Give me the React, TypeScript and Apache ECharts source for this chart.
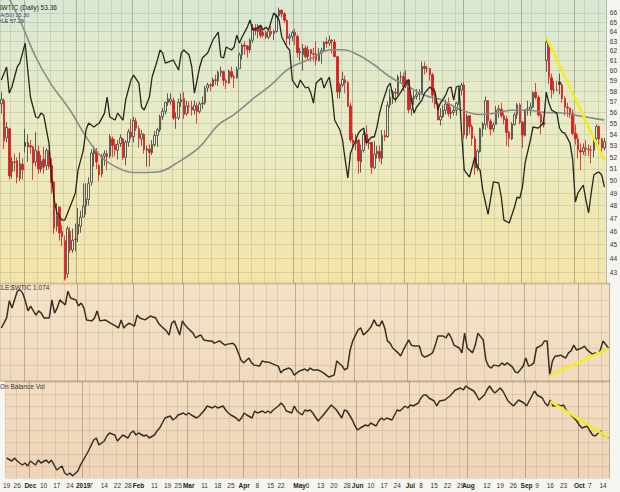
import { useEffect, useRef } from "react";
import * as echarts from "echarts";

// Trading sessions shown on the chart (month + trading days)
const sessionMonths = ["2018-11", "2018-12", "2019-01", "2019-02", "2019-03", "2019-04", "2019-05", "2019-06", "2019-07", "2019-08", "2019-09", "2019-10"];
const sessionDays: number[][] = [
  [19, 20, 21, 23, 26, 27, 28, 29, 30],
  [3, 4, 5, 6, 7, 10, 11, 12, 13, 14, 17, 18, 19, 20, 21, 24, 26, 27, 28, 31],
  [2, 3, 4, 7, 8, 9, 10, 11, 14, 15, 16, 17, 18, 22, 23, 24, 25, 28, 29, 30, 31],
  [1, 4, 5, 6, 7, 8, 11, 12, 13, 14, 15, 19, 20, 21, 22, 25, 26, 27, 28],
  [1, 4, 5, 6, 7, 8, 11, 12, 13, 14, 15, 18, 19, 20, 21, 22, 25, 26, 27, 28, 29],
  [1, 2, 3, 4, 5, 8, 9, 10, 11, 12, 15, 16, 17, 18, 22, 23, 24, 25, 26, 29, 30],
  [1, 2, 3, 6, 7, 8, 9, 10, 13, 14, 15, 16, 17, 20, 21, 22, 23, 24, 28, 29, 30, 31],
  [3, 4, 5, 6, 7, 10, 11, 12, 13, 14, 17, 18, 19, 20, 21, 24, 25, 26, 27, 28],
  [1, 2, 3, 5, 8, 9, 10, 11, 12, 15, 16, 17, 18, 19, 22, 23, 24, 25, 26, 29, 30, 31],
  [1, 2, 5, 6, 7, 8, 9, 12, 13, 14, 15, 16, 19, 20, 21, 22, 23, 26, 27, 28, 29, 30],
  [3, 4, 5, 6, 9, 10, 11, 12, 13, 16, 17, 18, 19, 20, 23, 24, 25, 26, 27, 30],
  [1, 2, 3, 4, 7, 8, 9, 10, 11, 14, 15, 16],
];

// $WTIC daily OHLC
const opens = [
  56.8, 57.1, 53.7, 54.5, 50.8, 51.6, 51.7, 50.2, 51.4,
  53.3, 52.9, 53.0, 52.9, 51.6, 52.5, 51.0, 51.8, 51.3, 52.4, 51.3, 49.9, 46.4, 47.9, 46.0, 45.3, 42.9, 46.0, 44.6, 45.4,
  45.8, 46.4, 47.1, 48.0, 48.5, 49.9, 52.3, 52.5, 51.3, 50.6, 52.1, 52.3, 52.1, 53.6, 53.1, 52.6, 53.2, 53.6, 52.0, 53.3, 54.2,
  53.8, 55.2, 54.5, 53.6, 54.0, 52.6, 52.7, 52.4, 53.1, 53.9, 54.4, 55.6, 56.1, 56.9, 57.0, 57.1, 55.5, 55.5, 57.0,
  57.3, 55.9, 56.6, 56.5, 56.2, 56.6, 56.1, 56.8, 56.9, 58.3, 58.6, 58.5, 59.1, 59.0, 59.8, 59.9, 59.0, 58.8, 59.9, 59.4, 59.3,
  60.2, 61.6, 62.6, 62.5, 62.1, 63.1, 64.4, 64.0, 64.6, 63.6, 63.9, 63.4, 64.0, 63.8, 64.0, 65.7, 66.3, 65.9, 65.2, 63.3, 63.5,
  63.9, 63.5, 61.8, 61.6, 62.3, 61.4, 62.1, 61.7, 61.7, 61.0, 61.8, 62.0, 62.9, 62.8, 63.1, 62.9, 61.4, 57.9, 58.6, 59.1, 58.8, 56.6,
  53.5, 53.2, 53.5, 51.6, 52.6, 54.0, 53.2, 53.3, 51.1, 52.3, 52.5, 51.9, 53.9, 53.8, 56.7, 57.4, 57.9, 57.8, 59.4, 59.4,
  58.5, 59.1, 56.3, 57.3, 57.5, 57.7, 57.8, 60.4, 60.2, 60.2, 59.6, 57.6, 56.8, 55.3, 55.6, 56.2, 56.8, 55.9, 56.0, 56.2, 56.9, 58.1,
  58.6, 53.9, 55.7, 54.7, 53.6, 51.1, 52.5, 54.5, 54.9, 57.1, 55.2, 54.5, 54.9, 56.2, 56.3, 55.7, 55.4, 54.2, 53.6, 54.9, 55.8, 56.7,
  55.1, 53.9, 56.3, 56.3, 56.5, 57.9, 57.4, 55.8, 55.1, 61.0, 62.6, 59.3, 58.1, 58.1, 58.9, 58.6, 57.3, 56.5, 56.4, 55.9,
  54.1, 53.6, 52.6, 52.5, 52.8, 52.7, 52.6, 52.6, 53.6, 54.7, 53.6, 52.8,
];
const highs = [
  57.9, 57.3, 55.1, 54.6, 52.0, 52.3, 52.0, 52.4, 51.9,
  54.5, 54.0, 53.5, 53.0, 54.2, 53.0, 52.2, 52.9, 52.8, 52.6, 51.9, 50.0, 48.2, 47.9, 46.5, 45.7, 46.4, 46.3, 46.2, 46.6,
  47.8, 47.6, 49.8, 49.8, 50.3, 52.7, 53.0, 52.8, 51.4, 52.3, 52.6, 52.6, 54.0, 53.8, 53.6, 53.5, 54.0, 53.7, 53.5, 54.5, 55.4,
  55.6, 55.5, 54.8, 54.4, 54.1, 53.0, 53.1, 53.5, 54.3, 54.6, 55.8, 56.4, 57.0, 57.8, 57.8, 57.4, 56.0, 57.3, 57.8,
  57.9, 57.1, 57.0, 57.1, 57.1, 56.9, 57.0, 57.5, 58.5, 58.8, 58.8, 59.3, 59.6, 60.0, 60.4, 60.0, 59.2, 60.1, 60.4, 59.6, 60.4,
  61.8, 62.8, 63.0, 62.6, 63.3, 64.8, 64.8, 64.8, 64.7, 64.1, 64.1, 64.3, 64.6, 64.2, 65.9, 66.6, 66.4, 66.1, 65.3, 63.8, 64.1,
  64.3, 63.7, 62.3, 62.7, 62.6, 62.5, 62.2, 62.3, 63.0, 62.3, 62.3, 63.0, 63.4, 63.6, 63.2, 63.2, 61.5, 58.8, 59.9, 59.5, 59.0, 56.9,
  54.1, 54.0, 53.6, 53.1, 54.3, 54.8, 53.6, 53.3, 53.4, 53.0, 53.0, 54.4, 54.4, 57.0, 58.2, 58.1, 58.3, 59.6, 59.9, 59.8,
  60.0, 59.2, 57.6, 58.0, 58.2, 58.2, 60.9, 60.9, 60.5, 60.3, 59.8, 58.3, 57.0, 56.4, 56.7, 57.2, 57.4, 56.5, 56.5, 57.0, 58.3, 58.8,
  58.8, 55.9, 55.7, 54.9, 53.9, 52.7, 54.6, 55.1, 57.5, 57.1, 55.4, 55.1, 56.6, 56.7, 56.9, 56.0, 55.7, 54.3, 55.1, 56.0, 56.9, 56.9,
  55.2, 56.3, 57.1, 56.9, 58.0, 58.8, 57.6, 56.0, 55.6, 63.4, 62.9, 59.7, 59.0, 59.0, 59.7, 58.8, 57.5, 56.9, 56.4, 56.3,
  54.9, 54.0, 53.2, 53.2, 53.5, 53.1, 53.0, 53.8, 54.9, 54.8, 53.7, 53.7,
];
const lows = [
  55.9, 52.7, 53.3, 50.1, 50.2, 50.8, 49.8, 50.0, 50.1,
  52.4, 51.6, 52.3, 50.1, 51.2, 50.6, 50.7, 50.6, 50.9, 51.0, 49.0, 45.8, 46.0, 45.3, 44.9, 42.4, 42.6, 44.4, 44.4, 44.5,
  45.2, 45.9, 47.1, 47.3, 48.0, 49.6, 51.2, 51.0, 50.0, 50.3, 51.3, 50.9, 51.9, 52.0, 52.1, 51.8, 52.9, 51.8, 51.3, 52.9, 53.6,
  53.3, 54.3, 52.8, 53.0, 52.3, 51.2, 51.2, 52.2, 52.9, 52.9, 54.2, 55.3, 55.8, 56.6, 56.7, 55.3, 54.5, 55.3, 56.5,
  55.4, 55.7, 55.9, 55.7, 55.8, 55.0, 55.9, 56.3, 56.7, 57.9, 58.0, 58.4, 58.6, 58.5, 59.4, 58.5, 58.2, 58.7, 59.2, 58.3, 59.2,
  60.2, 61.1, 61.6, 61.3, 61.8, 62.8, 63.6, 63.3, 63.3, 63.4, 63.2, 63.2, 63.5, 63.1, 63.9, 65.4, 65.5, 64.9, 62.6, 62.6, 63.0,
  62.6, 61.3, 61.0, 60.0, 61.2, 61.1, 60.9, 60.9, 60.5, 60.9, 60.7, 61.9, 62.3, 62.5, 61.7, 61.3, 57.3, 57.3, 58.4, 57.8, 56.5, 53.3,
  52.7, 52.6, 50.6, 50.7, 52.4, 53.0, 52.7, 50.6, 51.0, 51.9, 51.6, 51.4, 53.4, 53.7, 56.4, 56.8, 56.9, 57.6, 58.9, 58.0,
  58.3, 55.9, 55.7, 56.7, 57.2, 57.1, 57.8, 59.6, 59.8, 59.0, 56.9, 56.4, 55.3, 54.8, 55.5, 55.8, 55.6, 55.4, 55.7, 55.7, 56.7, 57.6,
  53.6, 53.6, 54.0, 53.0, 50.5, 50.8, 52.4, 53.8, 54.4, 54.6, 53.9, 54.2, 54.9, 55.5, 55.5, 54.9, 53.0, 52.9, 53.5, 54.8, 55.4, 54.9,
  52.8, 53.8, 55.7, 55.7, 56.4, 57.2, 55.6, 54.0, 54.6, 59.9, 58.7, 57.3, 57.7, 58.0, 57.7, 56.9, 55.7, 55.6, 55.5, 53.9,
  53.1, 51.9, 50.9, 52.2, 52.1, 52.1, 51.5, 52.0, 53.5, 53.1, 52.5, 52.6,
];
const closes = [
  57.20, 53.43, 54.63, 50.42, 51.63, 51.56, 50.29, 51.45, 50.93,
  52.95, 53.25, 52.89, 51.49, 52.61, 51.00, 51.65, 51.15, 52.58, 51.20, 49.88, 46.24, 47.20, 45.88, 45.59, 42.53, 46.22, 44.61, 45.33, 45.41,
  46.54, 47.09, 47.96, 48.52, 49.78, 52.36, 52.59, 51.59, 50.51, 52.11, 52.31, 52.07, 53.80, 53.01, 52.62, 53.13, 53.69, 51.99, 53.31, 54.23, 53.79,
  55.26, 54.56, 53.66, 54.01, 52.64, 52.72, 52.41, 53.10, 53.90, 54.41, 55.59, 56.09, 56.92, 57.26, 57.26, 55.48, 55.50, 56.94, 57.22,
  55.80, 56.59, 56.56, 56.22, 56.66, 56.07, 56.79, 56.87, 58.26, 58.61, 58.52, 59.09, 59.03, 59.83, 59.98, 59.04, 58.82, 59.94, 59.41, 59.30, 60.14,
  61.59, 62.58, 62.46, 62.10, 63.08, 64.40, 64.05, 64.61, 63.58, 63.89, 63.40, 64.05, 63.76, 64.00, 65.70, 66.30, 65.89, 65.21, 63.30, 63.50, 63.91,
  63.60, 61.81, 61.94, 62.25, 61.40, 62.12, 61.70, 61.66, 61.04, 61.78, 62.02, 62.87, 62.76, 63.10, 62.99, 61.42, 57.91, 58.63, 59.14, 58.81, 56.59, 53.50,
  53.25, 53.48, 51.68, 52.59, 53.99, 53.26, 53.27, 51.14, 52.28, 52.51, 51.93, 53.90, 53.76, 56.65, 57.43, 57.90, 57.83, 59.38, 59.43, 58.47,
  59.09, 56.25, 57.34, 57.51, 57.66, 57.83, 60.43, 60.20, 60.21, 59.58, 57.62, 56.78, 55.30, 55.63, 56.22, 56.77, 55.88, 56.02, 56.20, 56.87, 58.05, 58.58,
  53.95, 55.66, 54.69, 53.63, 51.09, 52.54, 54.50, 54.93, 57.10, 55.23, 54.47, 54.87, 56.21, 56.34, 55.68, 55.35, 54.17, 53.64, 54.93, 55.78, 56.71, 55.10,
  53.94, 56.26, 56.30, 56.52, 57.85, 57.40, 55.75, 55.09, 54.85, 62.90, 59.34, 58.11, 58.13, 58.09, 58.64, 57.29, 56.49, 56.41, 55.91, 54.07,
  53.62, 52.64, 52.45, 52.81, 52.75, 52.63, 52.59, 53.55, 54.70, 53.59, 52.81, 53.36,
];

// [session index, value] readings
const ma50Points: [number, number][] = [
  [0, 69.6], [3, 67.6], [7, 65.24], [13, 61.37], [19, 58.6], [26, 56.2], [32, 53.8], [38, 52.0], [44, 51.1], [50, 50.7],
  [59, 50.75], [67, 51.6], [75, 52.9], [82, 54.85], [88, 55.8], [96, 57.45], [102, 58.6], [108, 60.07], [113, 60.77], [116, 61.07],
  [125, 62.1], [129, 62.1], [135, 61.57], [141, 60.56], [147, 59.37], [154, 58.4], [160, 57.6], [166, 57.2], [174, 56.2], [181, 55.8],
  [187, 55.95], [193, 56.2], [199, 56.2], [205, 56.0], [212, 55.95], [218, 55.7], [224, 55.45], [228, 55.3],
];
const xlePoints: [number, number][] = [
  [0, 64.67], [2, 65.57], [3, 63.77], [4, 64.19], [6, 65.57], [7, 65.84], [9, 67.22], [10, 65.36], [11, 63.5], [13, 62.12],
  [14, 62.05], [15, 62.39], [16, 62.26], [18, 60.32], [19, 57.98], [20, 56.39], [21, 55.5], [23, 55.01], [24, 55.01], [27, 56.39],
  [28, 56.88], [29, 58.46], [31, 59.84], [32, 61.22], [33, 61.7], [35, 61.43], [37, 61.7], [39, 62.39], [40, 63.5], [41, 62.12],
  [43, 61.91], [44, 62.39], [46, 61.91], [47, 63.29], [49, 64.67], [50, 65.01], [52, 64.46], [53, 62.81], [54, 62.6], [56, 63.5],
  [57, 64.88], [59, 66.05], [60, 66.74], [61, 66.53], [62, 65.84], [63, 65.91], [65, 66.05], [67, 65.36], [68, 66.53], [69, 66.74],
  [71, 66.39], [72, 65.57], [73, 63.77], [74, 64.67], [75, 65.57], [76, 66.19], [78, 66.53], [80, 67.43], [82, 67.98], [83, 66.26],
  [84, 66.19], [85, 66.95], [87, 66.74], [88, 66.95], [89, 67.77], [90, 67.22], [91, 67.64], [93, 68.32], [94, 68.81], [95, 68.12],
  [97, 68.26], [98, 68.46], [99, 68.12], [100, 68.32], [101, 68.12], [103, 69.3], [105, 68.81], [106, 67.64], [108, 66.95], [109, 66.74],
  [110, 64.67], [112, 64.12], [113, 64.67], [115, 64.12], [116, 64.19], [117, 63.77], [118, 63.08], [119, 64.46], [121, 64.81], [122, 64.12],
  [123, 64.53], [124, 64.88], [125, 63.77], [126, 61.91], [128, 61.22], [129, 60.53], [130, 59.15], [131, 57.91], [132, 59.63], [134, 60.53],
  [135, 61.01], [136, 61.22], [137, 61.36], [138, 60.32], [140, 60.74], [141, 60.74], [142, 61.43], [143, 62.39], [144, 63.08], [146, 64.19],
  [147, 64.46], [148, 63.5], [149, 63.29], [151, 63.84], [153, 64.46], [154, 64.67], [155, 63.29], [156, 62.39], [157, 62.81], [159, 63.29],
  [160, 63.77], [162, 64.19], [164, 63.84], [165, 62.6], [166, 63.08], [168, 63.63], [169, 64.12], [170, 64.19], [171, 63.29], [172, 64.19],
  [173, 64.26], [174, 61.01], [175, 58.46], [177, 57.98], [179, 59.36], [180, 58.67], [181, 58.46], [182, 57.08], [184, 55.4], [186, 57.64],
  [188, 57.57], [189, 56.6], [190, 55.01], [192, 54.81], [194, 55.91], [195, 56.6], [196, 56.53], [197, 57.29], [198, 58.95], [200, 60.53],
  [201, 61.43], [203, 61.36], [205, 61.7], [206, 63.84], [207, 63.08], [208, 62.6], [210, 62.39], [211, 61.36], [212, 61.08], [213, 61.01],
  [215, 60.32], [216, 59.15], [217, 56.26], [218, 56.88], [220, 57.43], [221, 56.39], [222, 55.5], [223, 56.88], [224, 58.12], [225, 58.26],
  [226, 58.32], [227, 58.1], [228, 57.29],
];
const ratioPoints: [number, number][] = [
  [0, 1.136], [2, 1.167], [3, 1.22], [4, 1.198], [6, 1.25], [7, 1.254], [8, 1.244], [9, 1.22], [10, 1.189], [11, 1.204],
  [13, 1.176], [14, 1.189], [15, 1.182], [16, 1.167], [18, 1.167], [19, 1.223], [20, 1.182], [21, 1.198], [22, 1.223], [24, 1.207],
  [25, 1.25], [26, 1.229], [28, 1.223], [29, 1.204], [30, 1.213], [31, 1.198], [32, 1.161], [34, 1.158], [35, 1.167], [36, 1.189],
  [37, 1.158], [39, 1.161], [41, 1.151], [43, 1.142], [44, 1.136], [45, 1.161], [46, 1.136], [47, 1.145], [48, 1.151], [50, 1.142],
  [51, 1.176], [52, 1.167], [54, 1.161], [55, 1.167], [56, 1.173], [58, 1.167], [59, 1.151], [60, 1.142], [62, 1.127], [63, 1.114],
  [64, 1.151], [65, 1.158], [67, 1.114], [68, 1.158], [69, 1.145], [70, 1.136], [72, 1.12], [73, 1.105], [74, 1.111], [75, 1.114],
  [76, 1.099], [78, 1.096], [79, 1.096], [80, 1.089], [82, 1.096], [83, 1.089], [84, 1.083], [85, 1.086], [87, 1.089], [88, 1.08],
  [89, 1.059], [90, 1.037], [91, 1.028], [93, 1.043], [94, 1.028], [95, 1.021], [97, 1.018], [98, 1.034], [99, 1.031], [100, 1.031],
  [101, 1.028], [103, 1.021], [104, 1.018], [105, 0.997], [106, 1.006], [108, 1.012], [109, 1.006], [110, 0.99], [112, 1.003], [113, 1.006],
  [114, 1.009], [115, 1.003], [116, 1.012], [117, 1.006], [119, 1.006], [121, 0.997], [123, 0.984], [125, 0.99], [126, 1.034], [128, 1.018],
  [129, 1.006], [130, 1.012], [131, 1.068], [132, 1.096], [134, 1.13], [135, 1.136], [136, 1.114], [138, 1.13], [139, 1.142], [140, 1.161],
  [141, 1.145], [142, 1.142], [143, 1.158], [144, 1.136], [145, 1.096], [146, 1.089], [147, 1.074], [149, 1.059], [150, 1.049], [151, 1.068],
  [153, 1.099], [154, 1.083], [155, 1.08], [157, 1.08], [158, 1.052], [159, 1.046], [160, 1.049], [162, 1.059], [163, 1.083], [164, 1.111],
  [166, 1.111], [167, 1.105], [168, 1.12], [169, 1.105], [170, 1.083], [172, 1.074], [173, 1.059], [174, 1.12], [175, 1.074], [177, 1.059],
  [178, 1.083], [179, 1.12], [181, 1.099], [182, 1.037], [183, 1.018], [184, 1.012], [185, 1.021], [187, 1.018], [188, 1.028], [189, 1.021],
  [190, 1.028], [192, 1.015], [193, 1.0], [194, 0.997], [196, 1.018], [197, 1.043], [198, 1.018], [199, 1.021], [200, 1.028], [201, 1.074],
  [203, 1.083], [204, 1.096], [205, 1.096], [206, 0.99], [207, 1.034], [208, 1.049], [209, 1.049], [210, 1.052], [212, 1.043], [213, 1.059],
  [214, 1.065], [215, 1.083], [216, 1.068], [218, 1.074], [219, 1.08], [220, 1.068], [222, 1.055], [223, 1.059], [224, 1.055], [225, 1.068],
  [226, 1.096], [228, 1.074],
];
const obvPoints: [number, number][] = [
  [0, 20], [2, 17], [3, 20], [4, 17], [6, 13], [7, 15], [8, 12], [9, 17], [11, 13], [12, 18], [13, 15], [15, 18], [16, 15], [17, 18],
  [18, 13], [19, 8], [21, 12], [22, 5], [23, 3], [24, 5], [25, 2], [27, 7], [28, 13], [31, 27], [33, 38], [34, 40], [35, 33], [37, 37],
  [38, 42], [39, 45], [41, 43], [42, 37], [43, 40], [44, 43], [46, 40], [47, 45], [48, 47], [49, 43], [50, 45], [52, 42], [53, 43], [54, 40],
  [56, 43], [57, 47], [58, 50], [59, 55], [60, 60], [62, 62], [63, 58], [64, 60], [65, 63], [67, 65], [68, 63], [69, 65], [70, 63], [72, 60],
  [73, 62], [74, 65], [75, 68], [76, 72], [78, 70], [79, 72], [80, 70], [82, 72], [83, 68], [84, 65], [85, 63], [87, 60], [88, 57], [89, 60],
  [90, 65], [91, 63], [93, 60], [94, 67], [95, 65], [97, 67], [98, 65], [99, 67], [100, 65], [101, 68], [103, 72], [104, 75], [105, 72], [106, 67],
  [108, 65], [109, 72], [110, 67], [112, 63], [113, 68], [114, 67], [115, 68], [116, 65], [118, 57], [120, 63], [123, 73], [125, 68], [127, 60], [128, 68],
  [129, 67], [131, 58], [132, 52], [133, 48], [134, 50], [136, 53], [137, 52], [138, 55], [140, 52], [141, 57], [142, 60], [143, 58], [144, 60], [146, 58],
  [147, 63], [148, 68], [149, 67], [151, 72], [152, 70], [153, 73], [154, 72], [156, 75], [157, 80], [158, 83], [159, 83], [160, 80], [162, 77], [163, 72],
  [164, 77], [166, 78], [167, 80], [168, 82], [169, 85], [170, 88], [172, 90], [173, 88], [174, 92], [175, 90], [177, 87], [178, 83], [179, 78], [181, 83],
  [182, 88], [183, 92], [184, 88], [185, 85], [187, 90], [188, 87], [189, 82], [190, 77], [192, 72], [193, 75], [194, 78], [196, 75], [197, 72], [198, 77],
  [199, 82], [200, 87], [201, 83], [203, 80], [204, 75], [205, 72], [206, 78], [207, 72], [209, 73], [210, 72], [211, 73], [212, 68], [213, 65], [215, 60],
  [216, 57], [217, 53], [218, 50], [220, 52], [221, 47], [222, 43], [223, 42], [225, 47], [226, 43], [227, 42], [228, 40],
];

// Hand-drawn yellow trendlines
const priceTrend: [number, number][] = [[206, 63.4], [228, 51.7]];
const ratioTrend: [number, number][] = [[206, 0.989], [228, 1.072]];
const obvTrend: [number, number][] = [[206, 76.6], [228, 40.6]];

// Axis labels
const priceTicks = [43, 44, 45, 46, 47, 48, 49, 50, 51, 52, 53, 54, 55, 56, 57, 58, 59, 60, 61, 62, 63, 64, 65, 66];
const xTickLabels: [string, string][] = [
  ["2018-11-19", "19"], ["2018-11-26", "26"], ["2018-12-03", "Dec"], ["2018-12-10", "10"], ["2018-12-17", "17"], ["2018-12-24", "24"],
  ["2019-01-02", "2019"], ["2019-01-07", "7"], ["2019-01-14", "14"], ["2019-01-22", "22"], ["2019-01-28", "28"],
  ["2019-02-01", "Feb"], ["2019-02-11", "11"], ["2019-02-19", "19"], ["2019-02-25", "25"],
  ["2019-03-01", "Mar"], ["2019-03-11", "11"], ["2019-03-18", "18"], ["2019-03-25", "25"],
  ["2019-04-01", "Apr"], ["2019-04-08", "8"], ["2019-04-15", "15"], ["2019-04-22", "22"],
  ["2019-05-01", "May"], ["2019-05-06", "6"], ["2019-05-13", "13"], ["2019-05-20", "20"], ["2019-05-28", "28"],
  ["2019-06-03", "Jun"], ["2019-06-10", "10"], ["2019-06-17", "17"], ["2019-06-24", "24"],
  ["2019-07-01", "Jul"], ["2019-07-08", "8"], ["2019-07-15", "15"], ["2019-07-22", "22"], ["2019-07-29", "29"],
  ["2019-08-01", "Aug"], ["2019-08-12", "12"], ["2019-08-19", "19"], ["2019-08-26", "26"],
  ["2019-09-03", "Sep"], ["2019-09-09", "9"], ["2019-09-16", "16"], ["2019-09-23", "23"],
  ["2019-10-01", "Oct"], ["2019-10-07", "7"], ["2019-10-14", "14"],
];

const FONT = "Liberation Sans, Arial, sans-serif";

export default function App() {
  const ref = useRef<HTMLDivElement>(null);

  useEffect(() => {
    document.body.style.margin = "0";
    const el = ref.current;
    if (!el) return;
    const chart = echarts.init(el, null, { renderer: "svg" });

    const cats: string[] = [];
    const monthStart: boolean[] = [];
    sessionMonths.forEach((m, mi) => {
      sessionDays[mi].forEach((d, di) => {
        cats.push(`${m}-${String(d).padStart(2, "0")}`);
        monthStart.push(mi > 0 && di === 0);
      });
    });
    const labelMap = new Map(xTickLabels);
    const weekLine = cats.map((c) => labelMap.has(c));

    const candles = cats.map((_, i) => {
      const o = opens[i];
      const c = closes[i];
      const prev = i > 0 ? closes[i - 1] : o;
      const line = c >= prev ? "#3a3a36" : "#dd1a1a";
      const fill = c >= o ? "rgba(236,236,226,0.85)" : line;
      return {
        value: [o, c, lows[i], highs[i]],
        itemStyle: { color: fill, color0: fill, borderColor: line, borderColor0: line, borderColorDoji: line, borderWidth: 0.8 },
      };
    });

    const gridLine = "rgba(115,130,95,0.2)";
    const gridLineLow = "rgba(160,120,80,0.2)";
    const gridBase = { left: -3.3, width: 613, show: true, borderWidth: 0 };

    const mkWeekX = (gridIndex: number, showLabels: boolean, color: string) => ({
      type: "category",
      gridIndex,
      data: cats,
      boundaryGap: true,
      axisLine: { show: false },
      axisTick: { show: false },
      axisLabel: showLabels
        ? {
            show: true,
            interval: (i: number) => weekLine[i],
            formatter: (v: string) => {
              const t = labelMap.get(v) || "";
              return /^[A-Z]|2019/.test(t) ? `{b|${t}}` : t;
            },
            fontSize: 6.5,
            color: "#333",
            fontFamily: FONT,
            margin: 4,
            rich: { b: { fontWeight: "bold", fontSize: 6.5, color: "#222", fontFamily: FONT } },
          }
        : { show: false },
      splitLine: { show: true, interval: (i: number) => weekLine[i], lineStyle: { color, width: 1 } },
    });
    const mkMonthX = (gridIndex: number, color: string) => ({
      type: "category",
      gridIndex,
      data: cats,
      position: "top",
      boundaryGap: true,
      axisLine: { show: false },
      axisTick: { show: false },
      axisLabel: { show: false },
      splitLine: { show: true, interval: (i: number) => monthStart[i], lineStyle: { color, width: 1 } },
    });

    const lineBase = { type: "line", showSymbol: false, symbol: "none", silent: true };

    chart.setOption({
      animation: false,
      backgroundColor: "#f7f5ef",
      grid: [
        {
          ...gridBase, top: 0, height: 283,
          backgroundColor: new echarts.graphic.LinearGradient(0, 0, 0, 1, [
            { offset: 0, color: "#d9e8d3" },
            { offset: 0.45, color: "#e9ebc5" },
            { offset: 1, color: "#f4e4a8" },
          ]),
        },
        {
          ...gridBase, top: 283, height: 98,
          backgroundColor: new echarts.graphic.LinearGradient(0, 0, 0, 1, [
            { offset: 0, color: "#f4e2c7" },
            { offset: 1, color: "#f1dbc0" },
          ]),
        },
        {
          ...gridBase, top: 381, height: 97,
          backgroundColor: new echarts.graphic.LinearGradient(0, 0, 0, 1, [
            { offset: 0, color: "#f2ddc3" },
            { offset: 1, color: "#eed4b9" },
          ]),
        },
      ],
      xAxis: [
        mkWeekX(0, false, gridLine),
        mkWeekX(1, false, gridLineLow),
        mkWeekX(2, true, gridLineLow),
        mkMonthX(0, "rgba(95,105,80,0.32)"),
        mkMonthX(1, "rgba(130,100,70,0.32)"),
        mkMonthX(2, "rgba(130,100,70,0.32)"),
      ],
      yAxis: [
        {
          type: "log",
          gridIndex: 0,
          position: "right",
          min: 42.24,
          max: 67.43,
          axisLine: { show: false },
          axisTick: { show: false, customValues: priceTicks },
          axisLabel: { customValues: priceTicks, fontSize: 6.5, color: "#333", margin: 4, fontFamily: FONT },
          splitLine: { show: true, lineStyle: { color: gridLine, width: 1 } },
        },
        { type: "value", gridIndex: 0, min: 50.67, max: 70.19, show: false, splitLine: { show: false } },
        {
          type: "value", gridIndex: 1, min: 0.9718, max: 1.2753, interval: 0.05,
          axisLine: { show: false }, axisTick: { show: false }, axisLabel: { show: false },
          splitLine: { show: true, lineStyle: { color: gridLineLow, width: 1 } },
        },
        {
          type: "value", gridIndex: 2, min: 0, max: 97, interval: 12,
          axisLine: { show: false }, axisTick: { show: false }, axisLabel: { show: false },
          splitLine: { show: true, lineStyle: { color: gridLineLow, width: 1 } },
        },
      ],
      series: [
        { type: "candlestick", name: "$WTIC", xAxisIndex: 0, yAxisIndex: 0, data: candles, barWidth: 2, silent: true },
        { ...lineBase, name: "MA(50)", xAxisIndex: 0, yAxisIndex: 0, data: ma50Points, smooth: 0.4, lineStyle: { color: "#8a8a86", width: 1.6 } },
        { ...lineBase, name: "XLE", xAxisIndex: 0, yAxisIndex: 1, data: xlePoints, lineStyle: { color: "#26261e", width: 1.3 } },
        { ...lineBase, name: "trend1", xAxisIndex: 0, yAxisIndex: 0, data: priceTrend, lineStyle: { color: "#f3ee1c", width: 2.5 } },
        { ...lineBase, name: "XLE:$WTIC", xAxisIndex: 1, yAxisIndex: 2, data: ratioPoints, lineStyle: { color: "#372f24", width: 1.5 } },
        { ...lineBase, name: "trend2", xAxisIndex: 1, yAxisIndex: 2, data: ratioTrend, lineStyle: { color: "#f3ee1c", width: 2.5 } },
        { ...lineBase, name: "OBV", xAxisIndex: 2, yAxisIndex: 3, data: obvPoints, lineStyle: { color: "#372f24", width: 1.5 } },
        { ...lineBase, name: "trend3", xAxisIndex: 2, yAxisIndex: 3, data: obvTrend, lineStyle: { color: "#f3ee1c", width: 2.5 } },
      ],
      graphic: [
        { type: "rect", shape: { x: 0, y: 282.5, width: 610, height: 1 }, style: { fill: "rgba(170,150,110,0.45)" }, silent: true },
        { type: "rect", shape: { x: 0, y: 380.5, width: 610, height: 1 }, style: { fill: "rgba(150,130,100,0.5)" }, silent: true },
        { type: "text", x: -2, y: 4, style: { text: "$WTIC (Daily) 53.36", fontSize: 6.5, fill: "#222", fontFamily: FONT } },
        { type: "text", x: -4, y: 11.5, style: { text: "MA(50) 55.30", fontSize: 5.5, fill: "#1f3a9c", fontFamily: FONT } },
        { type: "text", x: -2, y: 17.5, style: { text: "XLE 57.29", fontSize: 5.5, fill: "#222", fontFamily: FONT } },
        { type: "text", x: -3, y: 284, style: { text: "XLE:$WTIC 1.074", fontSize: 6.5, fill: "#333", fontFamily: FONT } },
        { type: "text", x: 0, y: 382.5, style: { text: "On Balance Vol", fontSize: 6.5, fill: "#333", fontFamily: FONT } },
      ],
    });

    return () => chart.dispose();
  }, []);

  return <div ref={ref} style={{ width: 620, height: 492 }} />;
}
